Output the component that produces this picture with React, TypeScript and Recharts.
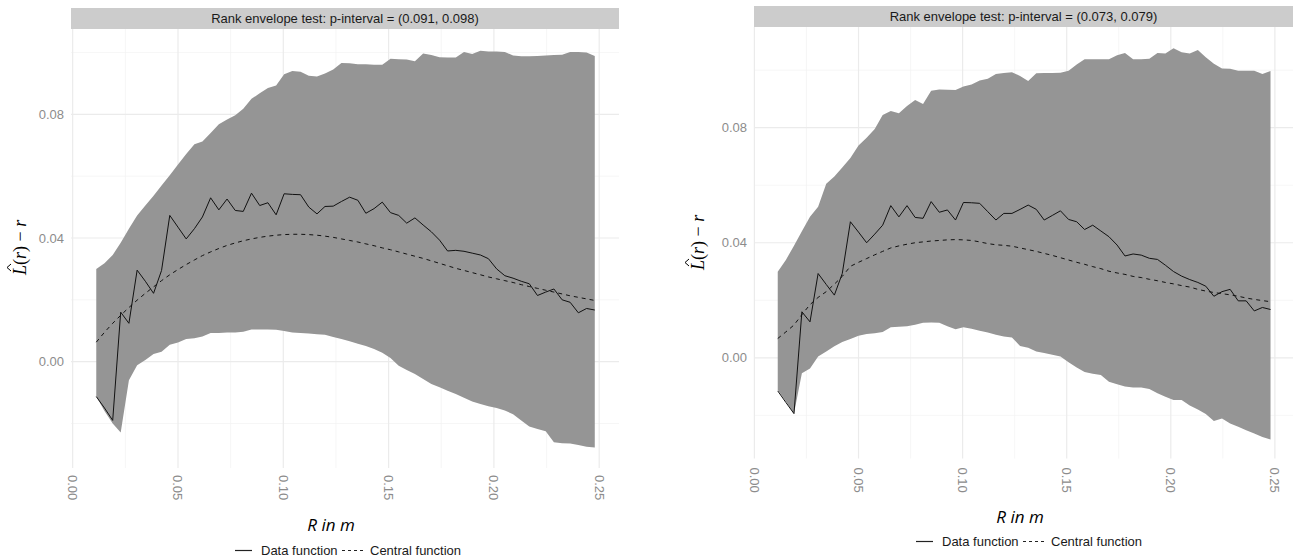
import { Area, CartesianGrid, ComposedChart, Line, XAxis, YAxis } from "recharts";

// distance grid shared by both envelope tests
const R_VALUES = [
  0.0112, 0.0151, 0.019, 0.0228, 0.0267, 0.0306, 0.0345, 0.0384, 0.0422, 0.0461,
  0.05, 0.0539, 0.0578, 0.0616, 0.0655, 0.0694, 0.0733, 0.0772, 0.081, 0.0849,
  0.0888, 0.0927, 0.0966, 0.1004, 0.1043, 0.1082, 0.1121, 0.116, 0.1198, 0.1237,
  0.1276, 0.1315, 0.1354, 0.1392, 0.1431, 0.147, 0.1509, 0.1548, 0.1586, 0.1625,
  0.1664, 0.1703, 0.1742, 0.178, 0.1819, 0.1858, 0.1897, 0.1936, 0.1974, 0.2013,
  0.2052, 0.2091, 0.213, 0.2168, 0.2207, 0.2246, 0.2285, 0.2324, 0.2362, 0.2401,
  0.244, 0.2479,
];

const LEFT_UPPER = [
  0.03, 0.0318, 0.0345, 0.0385, 0.043, 0.0473, 0.0505, 0.0537, 0.057, 0.0603,
  0.0638, 0.0672, 0.0703, 0.0712, 0.074, 0.0768, 0.0783, 0.0797, 0.0818, 0.085,
  0.0868, 0.0885, 0.0893, 0.093, 0.094, 0.0938, 0.0925, 0.0922, 0.0932, 0.0945,
  0.0966, 0.0965, 0.0962, 0.0962, 0.096, 0.096, 0.098, 0.0978, 0.0977, 0.0972,
  0.0997, 0.0992, 0.0985, 0.0984, 0.0984, 0.1002, 0.0995, 0.1006, 0.1003, 0.1003,
  0.1002, 0.099, 0.0988, 0.0988, 0.0989, 0.099, 0.0992, 0.0993, 0.1002, 0.1002,
  0.1, 0.0989,
];
const LEFT_LOWER = [
  -0.0113, -0.016, -0.02, -0.0229, -0.006, -0.0012, 0.0005, 0.0025, 0.0032, 0.0055,
  0.0062, 0.0073, 0.0076, 0.0081, 0.0093, 0.0093, 0.0094, 0.0094, 0.0097, 0.0104,
  0.0104, 0.0104, 0.0103, 0.0099, 0.0094, 0.0093, 0.0091, 0.0089, 0.0087, 0.008,
  0.0073, 0.0066, 0.0058, 0.0051, 0.0041, 0.0029, 0.0012, -0.0013, -0.0027, -0.004,
  -0.0056, -0.0072, -0.0083, -0.0094, -0.0105, -0.0117, -0.0129, -0.0137, -0.0144, -0.015,
  -0.0158, -0.017, -0.019, -0.021, -0.0218, -0.0225, -0.0261, -0.0264, -0.0265, -0.027,
  -0.0275, -0.0278,
];
const LEFT_DATA = [
  -0.0113, -0.015, -0.019, 0.016, 0.0124, 0.0296, 0.026, 0.0221, 0.0295, 0.0473,
  0.0435, 0.0397, 0.043, 0.0468, 0.053, 0.0491, 0.0526, 0.0489, 0.0486, 0.0545,
  0.0505, 0.0514, 0.0475, 0.0543, 0.0541, 0.054, 0.05, 0.0478, 0.0502, 0.0503,
  0.0518, 0.0532, 0.0522, 0.048, 0.0495, 0.0516, 0.0482, 0.0473, 0.0448, 0.0465,
  0.0442, 0.042, 0.0393, 0.0358, 0.036, 0.0357, 0.0351, 0.0345, 0.0333, 0.03,
  0.0278, 0.027, 0.026, 0.0252, 0.0214, 0.0225, 0.0235, 0.02, 0.0192, 0.0158,
  0.0172, 0.0167,
];
const LEFT_CENTRAL = [
  0.0063, 0.0095, 0.0124, 0.015, 0.0175, 0.0199, 0.0221, 0.0242, 0.0262, 0.0281,
  0.0298, 0.0314, 0.0329, 0.0343, 0.0355, 0.0366, 0.0376, 0.0384, 0.0391, 0.0397,
  0.0402, 0.0406, 0.0409, 0.0411, 0.0412, 0.0412, 0.0411, 0.0409, 0.0406, 0.0402,
  0.0397, 0.0392, 0.0387, 0.0381, 0.0375, 0.0368, 0.0362, 0.0355, 0.0348, 0.0341,
  0.0334, 0.0326, 0.0318, 0.031, 0.0302, 0.0295, 0.0288, 0.0281, 0.0274, 0.0268,
  0.0262, 0.0256, 0.0249, 0.0243, 0.0237, 0.0231, 0.0225, 0.0219, 0.0213, 0.0208,
  0.0203, 0.0198,
];

const RIGHT_UPPER = [
  0.0299, 0.034, 0.039, 0.044, 0.049, 0.0525, 0.0605, 0.063, 0.0662, 0.0695,
  0.0738, 0.0765, 0.0795, 0.0844, 0.0858, 0.085, 0.0875, 0.0896, 0.0882, 0.0928,
  0.0933, 0.0932, 0.0931, 0.0943, 0.095, 0.0964, 0.097, 0.0987, 0.099, 0.0993,
  0.098, 0.0962, 0.0989, 0.099, 0.099, 0.0991, 0.0998, 0.102, 0.1038, 0.1038,
  0.1038, 0.1038, 0.1052, 0.106, 0.1038, 0.1038, 0.104, 0.106, 0.1058, 0.1076,
  0.1062, 0.1058, 0.107, 0.1045, 0.1022, 0.1006, 0.1005, 0.0998, 0.0998, 0.0998,
  0.0987, 0.0997,
];
const RIGHT_LOWER = [
  -0.0112, -0.0152, -0.0194, -0.0054, -0.0037, 0.0005, 0.0022, 0.004, 0.0055, 0.0065,
  0.0077, 0.0083, 0.0085, 0.009, 0.0106, 0.0108, 0.011, 0.0115, 0.0122, 0.0123,
  0.0122, 0.011, 0.0099, 0.0106, 0.0101, 0.0094, 0.0088, 0.008, 0.0074, 0.0071,
  0.0041, 0.0035, 0.0022, 0.0017, 0.0011, 0.0005, -0.0015, -0.0034, -0.0049, -0.0055,
  -0.006, -0.0083, -0.0092, -0.01, -0.0103, -0.0103, -0.0108, -0.0123, -0.0135, -0.0147,
  -0.0147, -0.0166, -0.018, -0.0195, -0.022, -0.0211, -0.0228, -0.024, -0.0252, -0.0263,
  -0.0275, -0.0284,
];
const RIGHT_DATA = [
  -0.0115, -0.0155, -0.0194, 0.016, 0.0125, 0.0293, 0.0255, 0.0218, 0.0293, 0.0473,
  0.0437, 0.04, 0.043, 0.0461, 0.0529, 0.049, 0.0529, 0.0488, 0.0485, 0.0543,
  0.0506, 0.0514, 0.0479, 0.054, 0.0539, 0.0537, 0.0508, 0.0479, 0.0502, 0.0502,
  0.0516, 0.0531, 0.0516, 0.0479, 0.0495, 0.0511, 0.0481, 0.0473, 0.0446, 0.0461,
  0.0441, 0.0421, 0.0392, 0.0354, 0.0361, 0.0357, 0.0346, 0.0342, 0.0322, 0.03,
  0.0284, 0.0272, 0.0262, 0.0249, 0.0214, 0.023, 0.0238, 0.0198, 0.0198, 0.0163,
  0.0175, 0.0168,
];
const RIGHT_CENTRAL = [
  0.0067, 0.009, 0.0114, 0.015, 0.0185, 0.021, 0.023, 0.0256, 0.0283, 0.0318,
  0.0332, 0.0345, 0.0358, 0.037, 0.0382, 0.0389, 0.0395, 0.04, 0.0403, 0.0406,
  0.0408, 0.041, 0.0411, 0.041, 0.0408, 0.0403, 0.0397, 0.0393, 0.0391, 0.0388,
  0.0382, 0.0376, 0.037, 0.0363, 0.0356, 0.0348, 0.034, 0.0332, 0.0325, 0.0317,
  0.031, 0.0301, 0.0295, 0.029, 0.0283, 0.0279, 0.0273, 0.0268, 0.0262, 0.0257,
  0.0251, 0.0246, 0.0238, 0.0232, 0.0227, 0.0223, 0.0219, 0.0214, 0.0208, 0.0203,
  0.0199, 0.0195,
];

const X_TICKS = [0, 0.05, 0.1, 0.15, 0.2, 0.25];
const X_MINOR = [0.025, 0.075, 0.125, 0.175, 0.225];
const Y_TICKS = [0, 0.04, 0.08];
const Y_MINOR = [-0.02, 0.02, 0.06, 0.1];

const SANS = "'Liberation Sans', Arial, sans-serif";
const AXIS_TEXT = "#8c8c8c";
const ENVELOPE_FILL = "#959595";
const Y_AXIS_W = 40;
const X_AXIS_H = 40;

function buildRows(lower: number[], upper: number[], data: number[], central: number[]) {
  return R_VALUES.map((r, i) => ({
    r,
    band: [lower[i], upper[i]],
    data: data[i],
    central: central[i],
  }));
}

function RotatedTick(props: any) {
  const { x, y, payload, gap } = props;
  const ty = y + gap;
  return (
    <text
      x={x}
      y={ty}
      transform={`rotate(90, ${x}, ${ty})`}
      textAnchor="start"
      dominantBaseline="central"
      fontFamily={SANS}
      fontSize={13}
      fill={AXIS_TEXT}
    >
      {Number(payload.value).toFixed(2)}
    </text>
  );
}

type PanelProps = {
  title: string;
  rows: ReturnType<typeof buildRows>;
  left: number;
  width: number;
  height: number;
  // plot rectangle inside the panel box
  plot: { top: number; right: number; bottom: number; left: number };
  xDomain: [number, number];
  yDomain: [number, number];
  stripTop: number;
  tickGap: number;
};

function EnvelopePanel(props: PanelProps) {
  const { plot } = props;
  const margin = {
    top: plot.top,
    right: plot.right,
    bottom: plot.bottom - X_AXIS_H,
    left: plot.left - Y_AXIS_W,
  };
  const stripH = plot.top - props.stripTop;
  return (
    <div style={{ position: "absolute", left: props.left, top: 0, width: props.width, height: props.height }}>
      <div
        style={{
          position: "absolute",
          left: plot.left,
          top: props.stripTop,
          width: props.width - plot.left - plot.right,
          height: stripH,
          background: "#cccccc",
          color: "#1a1a1a",
          fontFamily: SANS,
          fontSize: 13,
          lineHeight: `${stripH}px`,
          textAlign: "center",
          whiteSpace: "nowrap",
        }}
      >
        {props.title}
      </div>
      <ComposedChart width={props.width} height={props.height} data={props.rows} margin={margin}>
        <CartesianGrid
          horizontalValues={Y_MINOR}
          verticalValues={X_MINOR}
          stroke="#f2f2f2"
          strokeWidth={0.7}
        />
        <CartesianGrid
          horizontalValues={Y_TICKS}
          verticalValues={X_TICKS}
          stroke="#ebebeb"
          strokeWidth={1.2}
        />
        <XAxis
          type="number"
          dataKey="r"
          domain={props.xDomain}
          allowDataOverflow
          ticks={X_TICKS}
          height={X_AXIS_H}
          axisLine={false}
          tickLine={false}
          tickSize={0}
          tickMargin={0}
          interval={0}
          tick={(p: any) => <RotatedTick {...p} gap={props.tickGap} />}
        />
        <YAxis
          type="number"
          domain={props.yDomain}
          allowDataOverflow
          ticks={Y_TICKS}
          width={Y_AXIS_W}
          axisLine={false}
          tickLine={false}
          tickSize={0}
          tickMargin={7}
          interval={0}
          tickFormatter={(v: number) => v.toFixed(2)}
          tick={{ fontFamily: SANS, fontSize: 13, fill: AXIS_TEXT }}
        />
        <Area
          type="linear"
          dataKey="band"
          fill={ENVELOPE_FILL}
          fillOpacity={1}
          stroke="none"
          isAnimationActive={false}
          activeDot={false}
        />
        <Line
          type="linear"
          dataKey="data"
          stroke="#111111"
          strokeWidth={1}
          dot={false}
          activeDot={false}
          isAnimationActive={false}
        />
        <Line
          type="linear"
          dataKey="central"
          stroke="#111111"
          strokeWidth={1}
          strokeDasharray="4 4"
          dot={false}
          activeDot={false}
          isAnimationActive={false}
        />
      </ComposedChart>
    </div>
  );
}

function YTitle(props: { cx: number; cy: number }) {
  return (
    <g transform={`translate(${props.cx}, ${props.cy}) rotate(-90)`}>
      <text x={-27} y={6} fontFamily="'Liberation Serif', serif" fontSize={18} fill="#000">
        <tspan fontStyle="italic">L</tspan>
        <tspan>(</tspan>
        <tspan fontStyle="italic">r</tspan>
        <tspan>) − </tspan>
        <tspan fontStyle="italic">r</tspan>
      </text>
      <polyline points="-23,-9 -19.5,-13 -16,-9" fill="none" stroke="#000" strokeWidth={1} />
    </g>
  );
}

function LegendRow(props: { x: number; y: number }) {
  const { x, y } = props;
  return (
    <g fontFamily={SANS} fontSize={13} fill="#1a1a1a">
      <line x1={x} x2={x + 17} y1={y} y2={y} stroke="#222" strokeWidth={1.2} />
      <text x={x + 26} y={y} dominantBaseline="central">Data function</text>
      <line x1={x + 107} x2={x + 129} y1={y} y2={y} stroke="#222" strokeWidth={1.2} strokeDasharray="3 3" />
      <text x={x + 135} y={y} dominantBaseline="central">Central function</text>
    </g>
  );
}

export default function App() {
  const leftRows = buildRows(LEFT_LOWER, LEFT_UPPER, LEFT_DATA, LEFT_CENTRAL);
  const rightRows = buildRows(RIGHT_LOWER, RIGHT_UPPER, RIGHT_DATA, RIGHT_CENTRAL);

  return (
    <div style={{ position: "absolute", left: 0, top: 0, width: 1293, height: 558, background: "#fff", overflow: "hidden" }}>
      <EnvelopePanel
        title="Rank envelope test: p-interval = (0.091, 0.098)"
        rows={leftRows}
        left={0}
        width={640}
        height={558}
        plot={{ top: 29, right: 21, bottom: 90, left: 71 }}
        xDomain={[-0.0008, 0.2594]}
        yDomain={[-0.0344, 0.1076]}
        stripTop={8}
        tickGap={7}
      />
      <EnvelopePanel
        title="Rank envelope test: p-interval = (0.073, 0.079)"
        rows={rightRows}
        left={680}
        width={613}
        height={558}
        plot={{ top: 27, right: 0, bottom: 99.5, left: 74 }}
        xDomain={[-0.0002, 0.2587]}
        yDomain={[-0.035, 0.115]}
        stripTop={6}
        tickGap={9}
      />
      <svg width={1293} height={558} style={{ position: "absolute", left: 0, top: 0, pointerEvents: "none" }}>
        <YTitle cx={20} cy={248} />
        <YTitle cx={698} cy={243} />
        <text x={331} y={531} textAnchor="middle" fontFamily="'Open Sans', sans-serif" fontStyle="italic" fontSize={17} fill="#000">
          R in m
        </text>
        <text x={1020} y={523} textAnchor="middle" fontFamily="'Open Sans', sans-serif" fontStyle="italic" fontSize={17} fill="#000">
          R in m
        </text>
        <LegendRow x={235} y={550.5} />
        <LegendRow x={916} y={541.5} />
      </svg>
    </div>
  );
}
